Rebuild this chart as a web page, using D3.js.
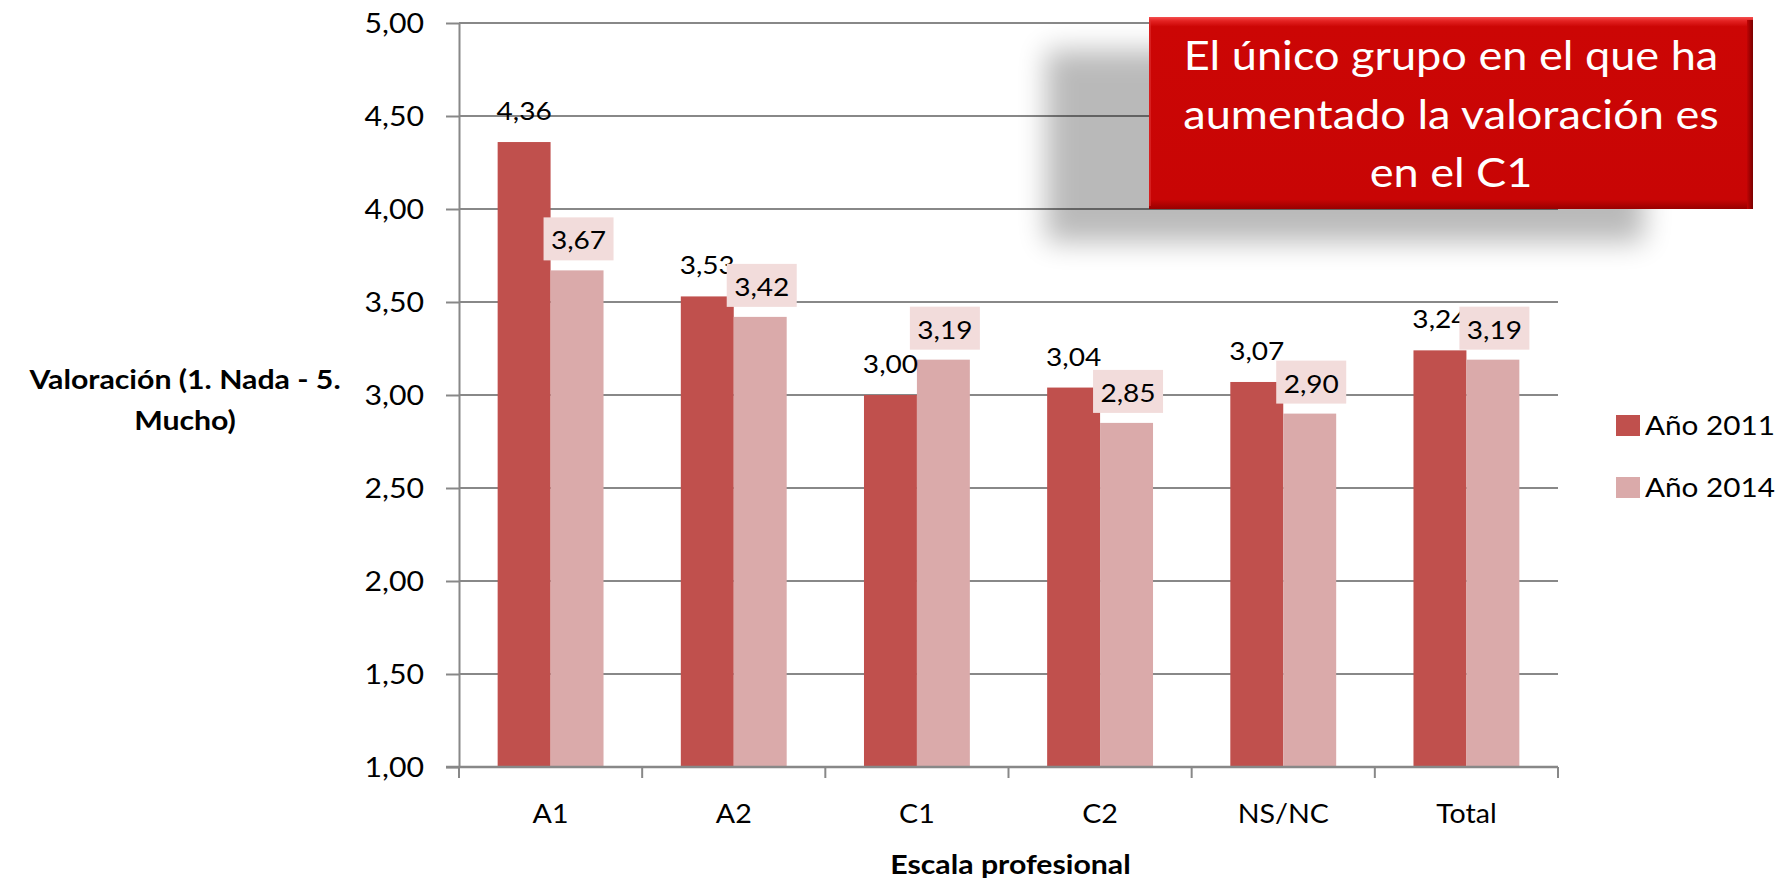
<!DOCTYPE html>
<html>
<head>
<meta charset="utf-8">
<script src="https://cdn.jsdelivr.net/npm/d3@7"></script>
<style>
  body { margin: 0; background: #fff; }
  svg { display: block; }
  text { font-family: Lato, "Open Sans", sans-serif; fill: #000; }
</style>
</head>
<body>
<svg id="chart" width="1790" height="880"></svg>
<script>
// ---- data ----
const categories = ["A1", "A2", "C1", "C2", "NS/NC", "Total"];
const seriesNames = ["Año 2011", "Año 2014"];
const values2011 = [4.36, 3.53, 3.00, 3.04, 3.07, 3.24];
const values2014 = [3.67, 3.42, 3.19, 2.85, 2.90, 3.19];
const yTicks = [1, 1.5, 2, 2.5, 3, 3.5, 4, 4.5, 5];
const yTitleLines = ["Valoración (1. Nada - 5.", "Mucho)"];
const xTitle = "Escala profesional";
const noteLines = ["El único grupo en el que ha", "aumentado la valoración es", "en el C1"];

// ---- layout ----
const W = 1790, H = 880;
const plot = { left: 459, right: 1558, top: 23, bottom: 767 };
const SX = 1.1;                       // horizontal text widening
const colors = ["#C0504D", "#DAAAAA"];
const labelBg = "#F2DCDB";
const gridColor = "#888888";
const fmt = v => d3.format(".2f")(v).replace(".", ",");

const svg = d3.select("#chart");
const defs = svg.append("defs");

const x0 = d3.scaleBand().domain(categories).range([plot.left, plot.right]).paddingInner(0).paddingOuter(0);
const x1 = d3.scaleBand().domain(seriesNames).range([0, x0.bandwidth()]).paddingInner(0).paddingOuter(0.73);
const y = d3.scaleLinear().domain([1, 5]).range([plot.bottom, plot.top]);

const rows = categories.map((c, i) => ({ cat: c, vals: [values2011[i], values2014[i]] }));

// text helper: position with horizontal widening
function put(sel, x, yy) { return sel.attr("transform", `translate(${x},${yy}) scale(${SX},1)`); }

// gridlines
svg.append("g").selectAll("line")
  .data(yTicks.filter(t => t > 1))
  .join("line")
  .attr("x1", plot.left).attr("x2", plot.right)
  .attr("y1", d => y(d)).attr("y2", d => y(d))
  .attr("stroke", gridColor).attr("stroke-width", 2);

// bars
const groups = svg.append("g").selectAll("g")
  .data(rows).join("g")
  .attr("transform", d => `translate(${x0(d.cat)},0)`);

groups.selectAll("rect")
  .data(d => d.vals.map((v, k) => ({ v, k })))
  .join("rect")
  .attr("x", d => x1(seriesNames[d.k]))
  .attr("width", x1.bandwidth())
  .attr("y", d => y(d.v))
  .attr("height", d => y(1) - y(d.v))
  .attr("fill", d => colors[d.k]);

// y axis
const yAxis = svg.append("g")
  .attr("transform", `translate(${plot.left},0)`)
  .call(d3.axisLeft(y).tickValues(yTicks).tickFormat(fmt).tickSize(13).tickSizeOuter(0).tickPadding(9));
yAxis.select(".domain").attr("stroke", gridColor).attr("stroke-width", 2);
yAxis.selectAll(".tick line").attr("stroke", gridColor).attr("stroke-width", 2);
yAxis.selectAll(".tick text")
  .attr("x", -35 / SX).attr("dy", "0.36em")
  .attr("transform", `scale(${SX},1)`)
  .style("font-size", "27.5px").style("font-family", "Lato");

// x axis
const xAxis = svg.append("g")
  .attr("transform", `translate(0,${plot.bottom})`)
  .call(d3.axisBottom(x0).tickSize(0).tickSizeOuter(0));
xAxis.select(".domain").remove();
xAxis.selectAll(".tick text")
  .attr("y", 56).attr("dy", 0)
  .attr("transform", `scale(${SX},1)`)
  .style("font-size", "26px").style("font-family", "Lato");
// x axis baseline and category boundary ticks
const bounds = categories.map(c => x0(c)).concat([x0(categories[categories.length - 1]) + x0.bandwidth()]);
xAxis.append("line")
  .attr("x1", plot.left - 13).attr("x2", plot.right)
  .attr("y1", 0).attr("y2", 0)
  .attr("stroke", gridColor).attr("stroke-width", 2.5);
xAxis.selectAll("line.bound").data(bounds).join("line")
  .attr("class", "bound")
  .attr("x1", d => d).attr("x2", d => d)
  .attr("y1", 0).attr("y2", 11)
  .attr("stroke", gridColor).attr("stroke-width", 2);

// 2011 value labels (plain)
groups.append("text")
  .each(function (d) {
    const cx = x1(seriesNames[0]) + x1.bandwidth() / 2;
    put(d3.select(this), cx, y(d.vals[0]) - 22);
  })
  .attr("text-anchor", "middle")
  .style("font-size", "25.5px")
  .text(d => fmt(d.vals[0]));

// 2014 value labels (boxed)
const lab = groups.append("g")
  .attr("transform", d => `translate(${x1(seriesNames[1]) + x1.bandwidth() / 2 + 1.5},${y(d.vals[1]) - 10})`);
lab.append("rect")
  .attr("x", -35).attr("y", -43).attr("width", 70).attr("height", 43)
  .attr("fill", labelBg);
lab.append("text")
  .attr("text-anchor", "middle")
  .attr("transform", `translate(0,-11) scale(${SX},1)`)
  .style("font-size", "25.5px")
  .text(d => fmt(d.vals[1]));

// axis titles
const yt = svg.append("g");
yTitleLines.forEach((t, i) => {
  put(yt.append("text"), 185, 389 + i * 41)
    .attr("text-anchor", "middle")
    .style("font-size", "27.5px").style("font-weight", "bold")
    .text(t);
});
put(svg.append("text"), (plot.left + plot.right) / 2 + 2, 874)
  .attr("text-anchor", "middle")
  .style("font-size", "27.5px").style("font-weight", "bold")
  .text(xTitle);

// legend
const legend = svg.append("g").attr("transform", "translate(1616,0)");
seriesNames.forEach((s, i) => {
  const cy = 425 + i * 62;
  legend.append("rect").attr("x", 0).attr("y", cy - 10).attr("width", 24).attr("height", 21).attr("fill", colors[i]);
  put(legend.append("text"), 29, cy + 10).style("font-size", "27px").text(s);
});

// callout: soft shadow, red box, white text
const blur = defs.append("filter").attr("id", "soft")
  .attr("x", "-20%").attr("y", "-30%").attr("width", "140%").attr("height", "160%");
blur.append("feGaussianBlur").attr("stdDeviation", 14);

svg.append("rect")
  .attr("x", 1046).attr("y", 50).attr("width", 598).attr("height", 192)
  .attr("fill", "#000").attr("opacity", 0.27)
  .attr("filter", "url(#soft)");

const g1 = defs.append("linearGradient").attr("id", "boxFill").attr("x1", 0).attr("y1", 0).attr("x2", 0).attr("y2", 1);
[[0, "#F45050"], [0.02, "#E42222"], [0.05, "#CC0605"], [0.95, "#C80505"], [1, "#980000"]]
  .forEach(([o, c]) => g1.append("stop").attr("offset", o).attr("stop-color", c));
const g2 = defs.append("linearGradient").attr("id", "boxEdge").attr("x1", 0).attr("y1", 0).attr("x2", 1).attr("y2", 0);
[[0, "#C00404"], [1, "#7A0000"]]
  .forEach(([o, c]) => g2.append("stop").attr("offset", o).attr("stop-color", c));

const box = { x: 1149, y: 17, w: 604, h: 192 };
svg.append("rect").attr("x", box.x).attr("y", box.y).attr("width", box.w).attr("height", box.h).attr("fill", "url(#boxFill)");
svg.append("rect").attr("x", box.x + box.w - 6).attr("y", box.y + 3).attr("width", 6).attr("height", box.h - 3).attr("fill", "url(#boxEdge)");
svg.append("rect").attr("x", box.x).attr("y", box.y + 3).attr("width", 2).attr("height", box.h - 6).attr("fill", "#E03030").attr("opacity", 0.6);

noteLines.forEach((t, i) => {
  put(svg.append("text"), box.x + box.w / 2, 70 + i * 58.5)
    .attr("text-anchor", "middle")
    .style("font-size", "41px").style("fill", "#fff")
    .text(t);
});
</script>
</body>
</html>
